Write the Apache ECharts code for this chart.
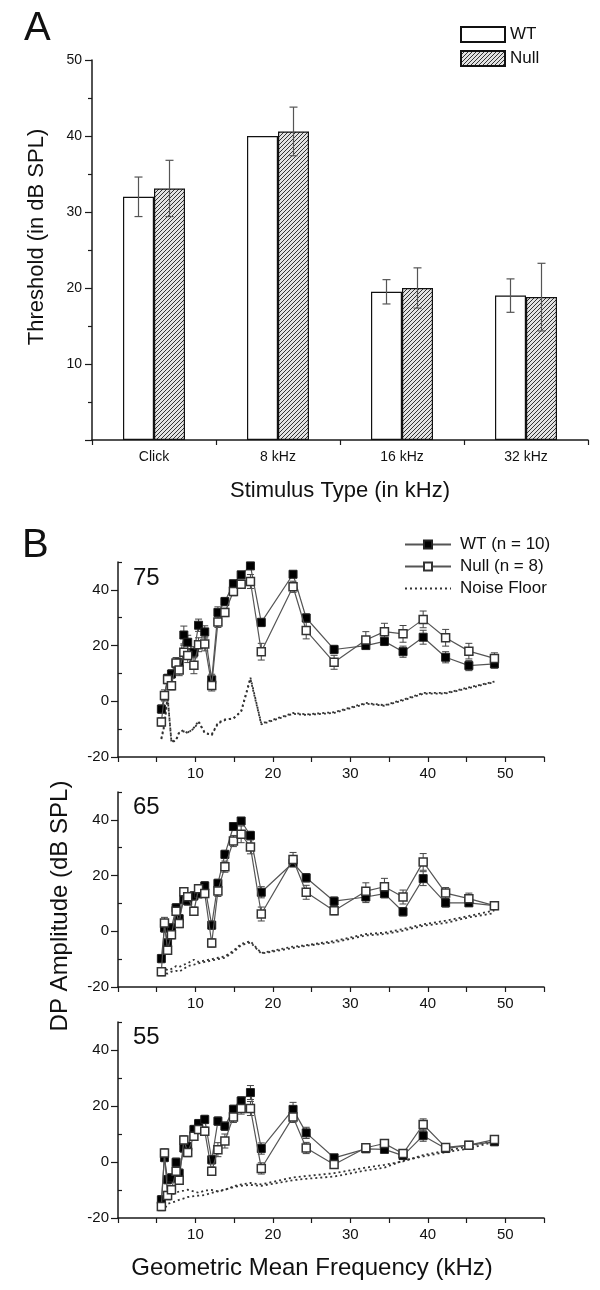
<!DOCTYPE html>
<html><head><meta charset="utf-8">
<script src="https://cdn.jsdelivr.net/npm/echarts@6/dist/echarts.min.js"></script>
<style>html,body{margin:0;padding:0;background:#fff}#c{width:600px;height:1290px}</style>
</head><body><div id="c"></div>
<script>
// ---------- Panel A data ----------
const categoriesA = ['Click', '8 kHz', '16 kHz', '32 kHz'];
const wtThreshold = [32.0, 40.0, 19.5, 19.0];
const wtThresholdErr = [2.6, 0, 1.6, 2.2];
const nullThreshold = [33.1, 40.6, 20.0, 18.8];
const nullThresholdErr = [3.7, 3.2, 2.65, 4.45];

// ---------- Panel B data ----------
const freq = [5.6, 6.0, 6.4, 6.9, 7.5, 7.9, 8.5, 9.0, 9.8, 10.4, 11.2, 12.1, 12.9, 13.8, 14.9, 15.9, 17.1, 18.5, 22.6, 24.3, 27.9, 32.0, 34.4, 36.8, 39.4, 42.3, 45.3, 48.6];
const levels = ['75', '65', '55'];

const wt75 = [-2.8, 2.0, 8.2, 9.8, 13.6, 13.8, 23.8, 21.2, 17.6, 27.3, 24.9, 7.7, 31.9, 35.8, 42.2, 45.4, 48.6, 28.3, 45.6, 29.9, 18.6, 20.0, 21.5, 17.8, 23.0, 15.8, 12.8, 13.4];
const wt75Err = [1.5, 1.5, 1.5, 1.5, 1.5, 1.5, 3.2, 2.5, 2.0, 2.2, 2.2, 2.0, 2.0, 1.5, 1.2, 1.2, 1.0, 1.5, 1.2, 1.5, 1.5, 1.2, 1.5, 2.0, 2.5, 2.0, 1.8, 1.5];
const null75 = [-7.4, 2.1, 7.8, 5.6, 13.7, 11.2, 17.6, 16.4, 12.9, 20.3, 20.6, 5.7, 28.5, 31.9, 39.4, 42.0, 43.0, 17.8, 41.1, 25.4, 14.0, 22.0, 25.0, 24.2, 29.4, 22.8, 18.0, 15.4];
const null75Err = [1.5, 2.0, 1.5, 1.5, 2.0, 2.0, 2.5, 2.5, 3.0, 2.5, 2.5, 2.0, 2.0, 1.5, 1.5, 1.5, 2.5, 3.0, 2.0, 3.0, 2.5, 3.0, 3.0, 3.0, 3.0, 3.0, 2.8, 2.0];
const noise75a = [-13.3, -8.0, 2.0, -14.5, -13.8, -11.0, -10.4, -11.5, -9.5, -7.1, -11.5, -11.9, -7.7, -6.5, -6.3, -3.5, 8.5, -8.0, -4.2, -4.7, -3.9, -0.6, -1.4, 0.6, 3.0, 3.0, 5.0, 7.1];
const noise75b = [-13.6, -8.5, 1.5, -14.8, -14.0, -11.3, -10.8, -11.2, -9.8, -7.5, -11.2, -12.2, -8.0, -6.8, -6.0, -3.8, 8.0, -8.3, -4.5, -4.9, -4.2, -0.9, -1.6, 0.3, 2.7, 2.8, 4.7, 6.9];

const wt65 = [-9.8, 1.2, -4.2, 1.2, 8.4, 4.5, 11.4, 10.9, 12.7, 13.5, 16.3, 2.2, 17.2, 27.6, 37.6, 39.6, 34.4, 14.0, 24.6, 19.2, 10.8, 12.3, 13.5, 7.0, 18.9, 10.2, 10.2, 9.2];
const wt65Err = [1.5, 1.5, 1.5, 1.5, 1.5, 1.5, 1.5, 1.5, 1.5, 1.5, 1.5, 1.5, 1.5, 1.5, 1.2, 1.2, 1.5, 2.0, 1.5, 1.5, 1.5, 2.0, 1.5, 1.5, 2.5, 1.5, 1.2, 1.0];
const null65 = [-14.5, 3.0, -6.8, -1.2, 7.2, 2.8, 14.2, 12.4, 7.2, 15.3, 13.6, -4.2, 14.5, 23.2, 32.4, 34.8, 30.3, 6.2, 25.8, 14.0, 7.4, 14.4, 16.0, 12.3, 24.9, 13.7, 11.7, 9.2];
const null65Err = [1.5, 2.0, 1.5, 1.5, 1.5, 1.5, 1.5, 1.5, 1.5, 1.5, 1.5, 1.5, 2.0, 2.0, 2.0, 3.0, 2.5, 2.5, 2.5, 2.5, 1.5, 3.0, 3.0, 2.5, 3.0, 2.0, 2.0, 1.0];
const noise65a = [-13.5, -13.2, -14.0, -13.5, -12.5, -12.8, -12.0, -11.5, -10.2, -11.0, -10.5, -10.0, -9.5, -9.0, -7.0, -4.5, -3.6, -7.8, -5.5, -5.0, -3.5, -1.0, -0.5, 0.8, 2.5, 3.8, 5.5, 7.5];
const noise65b = [-15.5, -15.0, -15.2, -14.5, -14.2, -14.5, -13.5, -12.5, -12.0, -11.5, -11.0, -10.5, -10.0, -9.5, -7.5, -5.0, -4.0, -8.0, -6.0, -5.2, -4.0, -1.5, -1.0, 0.2, 2.0, 3.0, 5.0, 6.5];

const wt55 = [-13.5, 1.6, -6.3, -5.7, -0.1, -4.0, 5.0, 5.5, 11.6, 13.7, 15.2, 0.8, 14.6, 12.8, 18.8, 21.8, 24.8, 4.8, 18.8, 10.4, 1.5, 4.7, 4.5, 2.3, 9.4, 4.8, 6.0, 7.2];
const wt55Err = [1.5, 1.5, 1.5, 1.5, 1.5, 1.5, 1.5, 1.5, 1.5, 1.5, 1.5, 1.5, 1.5, 1.5, 1.5, 1.5, 2.5, 2.0, 2.5, 2.0, 1.0, 1.0, 1.0, 1.0, 2.0, 1.0, 1.0, 1.0];
const null55 = [-15.9, 3.2, -12.0, -9.9, -3.3, -6.5, 7.9, 3.4, 9.2, 11.6, 11.0, -3.3, 4.4, 7.5, 16.1, 19.1, 19.1, -2.3, 16.1, 5.0, -0.9, 5.1, 6.6, 3.0, 13.4, 5.2, 6.0, 8.0];
const null55Err = [1.5, 1.5, 1.5, 1.5, 1.5, 1.5, 1.5, 1.5, 1.5, 1.5, 1.5, 1.5, 2.5, 2.5, 2.0, 2.0, 2.5, 2.0, 2.0, 2.0, 1.0, 1.0, 1.0, 1.0, 2.0, 1.0, 1.0, 1.0];
const noise55a = [-14.5, -12.5, -12.0, -11.5, -11.0, -10.5, -10.2, -9.9, -10.5, -11.0, -10.2, -10.0, -10.5, -10.0, -8.7, -8.0, -7.5, -8.0, -5.5, -5.0, -4.0, -2.0, -1.0, 0.2, 2.5, 4.0, 5.6, 7.8];
const noise55b = [-16.5, -16.8, -15.0, -14.5, -14.0, -13.5, -13.0, -12.5, -12.2, -12.0, -11.8, -11.0, -10.5, -9.8, -9.0, -8.5, -8.2, -8.5, -6.5, -6.0, -5.2, -3.0, -2.0, 0.5, 2.0, 3.5, 4.8, 7.2];

const panelB = [
  {wt: wt75, wtErr: wt75Err, nul: null75, nulErr: null75Err, na: noise75a, nb: noise75b},
  {wt: wt65, wtErr: wt65Err, nul: null65, nulErr: null65Err, na: noise65a, nb: noise65b},
  {wt: wt55, wtErr: wt55Err, nul: null55, nulErr: null55Err, na: noise55a, nb: noise55b}
];

// ---------- styling ----------
const FONT = 'Arial, "Liberation Sans", Helvetica, sans-serif';
const INK = '#111';
const AXIS = {lineStyle: {color: '#1a1a1a', width: 1.5}};

function makeHatch() {
  const s = 4;
  const c = document.createElement('canvas');
  c.width = s; c.height = s;
  const g = c.getContext('2d');
  g.fillStyle = '#e2e2e2'; g.fillRect(0, 0, s, s);
  g.strokeStyle = '#333'; g.lineWidth = 1;
  g.beginPath();
  g.moveTo(-1, s + 1); g.lineTo(s + 1, -1);
  g.moveTo(-1, 1); g.lineTo(1, -1);
  g.moveTo(s - 1, s + 1); g.lineTo(s + 1, s - 1);
  g.stroke();
  return c;
}
const hatch = makeHatch();

const BAR_W = 31;

function errA(offset) {
  return function (params, api) {
    const e = api.value(2);
    if (!e) return null;
    const c = api.coord([api.value(0), api.value(1)]);
    const x = c[0] + offset;
    const t = api.coord([api.value(0), api.value(1) + e])[1];
    const b = api.coord([api.value(0), api.value(1) - e])[1];
    const st = {stroke: '#555', lineWidth: 1.2};
    return {type: 'group', children: [
      {type: 'line', shape: {x1: x, y1: t, x2: x, y2: b}, style: st},
      {type: 'line', shape: {x1: x - 4, y1: t, x2: x + 4, y2: t}, style: st},
      {type: 'line', shape: {x1: x - 4, y1: b, x2: x + 4, y2: b}, style: st}
    ]};
  };
}
function errB(params, api) {
  const x = api.value(0), y = api.value(1), e = api.value(2);
  const t = api.coord([x, y + e]), b = api.coord([x, y - e]);
  const st = {stroke: '#444', lineWidth: 1};
  return {type: 'group', children: [
    {type: 'line', shape: {x1: t[0], y1: t[1], x2: b[0], y2: b[1]}, style: st},
    {type: 'line', shape: {x1: t[0] - 3.5, y1: t[1], x2: t[0] + 3.5, y2: t[1]}, style: st},
    {type: 'line', shape: {x1: b[0] - 3.5, y1: b[1], x2: b[0] + 3.5, y2: b[1]}, style: st}
  ]};
}

// ---------- layout ----------
const grids = [
  {left: 92, top: 60, width: 496, height: 380},
  {left: 118, top: 562, width: 426, height: 195},
  {left: 118, top: 792, width: 426, height: 195},
  {left: 118, top: 1022, width: 426, height: 196}
];

const xAxes = [
  {gridIndex: 0, type: 'category', data: categoriesA, axisLine: AXIS,
   axisTick: {alignWithLabel: true, length: 5, lineStyle: {color: '#1a1a1a', width: 1.2}},
   axisLabel: {fontSize: 14, fontFamily: FONT, color: INK, margin: 10}},
  {gridIndex: 0, type: 'category', data: categoriesA, position: 'bottom',
   axisLine: {show: false}, axisLabel: {show: false},
   axisTick: {show: true, length: 5, lineStyle: {color: '#1a1a1a', width: 1.2}}}
];
const yAxes = [
  {gridIndex: 0, type: 'value', min: 0, max: 50, interval: 10, axisLine: {show: true, lineStyle: {color: '#1a1a1a', width: 1.5}},
   splitLine: {show: false},
   axisTick: {show: true, length: 7, lineStyle: {color: '#1a1a1a', width: 1.2}},
   minorTick: {show: true, splitNumber: 2, length: 4, lineStyle: {color: '#1a1a1a', width: 1.2}},
   axisLabel: {fontSize: 14, fontFamily: FONT, color: INK, margin: 10, formatter: v => v === 0 ? '' : String(v)}}
];
for (let k = 0; k < 3; k++) {
  xAxes.push({gridIndex: k + 1, type: 'value', min: 0, max: 55, interval: 5,
    axisLine: {show: true, onZero: false, lineStyle: {color: '#1a1a1a', width: 1.5}},
    splitLine: {show: false},
    axisTick: {show: true, length: 5, lineStyle: {color: '#1a1a1a', width: 1.2}},
    axisLabel: {fontSize: 15, fontFamily: FONT, color: INK, margin: 9, showMaxLabel: true,
      formatter: v => (v > 0 && v <= 50 && v % 10 === 0) ? String(v) : ''}});
  yAxes.push({gridIndex: k + 1, type: 'value', min: -20, max: 50, interval: 10,
    axisLine: {show: true, onZero: false, lineStyle: {color: '#1a1a1a', width: 1.5}},
    splitLine: {show: false},
    axisTick: {show: true, length: 7, customValues: [-20, 0, 20, 40], lineStyle: {color: '#1a1a1a', width: 1.2}},
    axisLabel: {fontSize: 15, fontFamily: FONT, color: INK, margin: 9, customValues: [-20, 0, 20, 40],
      formatter: v => (v % 20 === 0 && v < 50) ? String(v) : ''}});
  yAxes.push({gridIndex: k + 1, type: 'value', min: -20, max: 50, interval: 10,
    axisLine: {show: false}, splitLine: {show: false}, axisLabel: {show: false},
    axisTick: {show: true, length: 4, customValues: [-10, 10, 30, 50], lineStyle: {color: '#1a1a1a', width: 1.2}}});
}

const series = [
  {name: 'WT', type: 'bar', xAxisIndex: 0, yAxisIndex: 0, data: wtThreshold, barWidth: BAR_W, barGap: '0%',
   itemStyle: {color: '#ffffff', borderColor: '#111', borderWidth: 1.2}},
  {name: 'Null', type: 'bar', xAxisIndex: 0, yAxisIndex: 0, data: nullThreshold, barWidth: BAR_W, barGap: '0%',
   itemStyle: {color: {image: hatch, repeat: 'repeat'}, borderColor: '#111', borderWidth: 1.2}},
  {type: 'custom', xAxisIndex: 0, yAxisIndex: 0, z: 5, renderItem: errA(-BAR_W / 2),
   data: wtThreshold.map((v, i) => [i, v, wtThresholdErr[i]])},
  {type: 'custom', xAxisIndex: 0, yAxisIndex: 0, z: 5, renderItem: errA(BAR_W / 2),
   data: nullThreshold.map((v, i) => [i, v, nullThresholdErr[i]])}
];

panelB.forEach((p, k) => {
  const xi = k + 2, yi = 1 + 2 * k;
  [p.na, p.nb].forEach(arr => series.push({
    name: 'Noise Floor', type: 'line', xAxisIndex: xi, yAxisIndex: yi, symbol: 'none', z: 1,
    itemStyle: {color: '#333'},
    lineStyle: {color: '#333', width: 1.8, type: [2, 3]},
    data: freq.map((f, i) => [f, arr[i]])
  }));
  series.push({type: 'custom', xAxisIndex: xi, yAxisIndex: yi, z: 2, renderItem: errB,
    data: freq.map((f, i) => [f, p.wt[i], p.wtErr[i]])});
  series.push({type: 'custom', xAxisIndex: xi, yAxisIndex: yi, z: 2, renderItem: errB,
    data: freq.map((f, i) => [f, p.nul[i], p.nulErr[i]])});
  series.push({name: 'WT (n = 10)', type: 'line', xAxisIndex: xi, yAxisIndex: yi, z: 3,
    symbol: 'rect', symbolSize: 8,
    itemStyle: {color: '#000', borderColor: '#222', borderWidth: 1},
    lineStyle: {color: '#555', width: 1.2},
    data: freq.map((f, i) => [f, p.wt[i]])});
  series.push({name: 'Null (n = 8)', type: 'line', xAxisIndex: xi, yAxisIndex: yi, z: 4,
    symbol: 'rect', symbolSize: 8,
    itemStyle: {color: '#fff', borderColor: '#333', borderWidth: 1.5},
    lineStyle: {color: '#555', width: 1.2},
    data: freq.map((f, i) => [f, p.nul[i]])});
});

const txt = (t, x, y, size, opts) => Object.assign({type: 'text', x: x, y: y,
  style: {text: t, fontSize: size, fontFamily: FONT, fill: INK, align: 'left', verticalAlign: 'middle'}}, opts || {});

const graphics = [
  txt('A', 24, 29, 40),
  txt('B', 22, 546, 40),
  txt('Threshold (in dB SPL)', 37, 237, 22, {rotation: Math.PI / 2}),
  txt('Stimulus Type (in kHz)', 340, 491, 22),
  txt('DP Amplitude (dB SPL)', 60, 906, 24, {rotation: Math.PI / 2}),
  txt('Geometric Mean Frequency (kHz)', 312, 1268, 24)
];
graphics[2].style.align = 'center';
graphics[3].style.align = 'center';
graphics[4].style.align = 'center';
graphics[5].style.align = 'center';
const levelY = [578, 807, 1037];
levels.forEach((l, k) => graphics.push(txt(l, 133, levelY[k], 24)));

const chart = echarts.init(document.getElementById('c'), null, {renderer: 'canvas'});
chart.setOption({
  animation: false,
  backgroundColor: '#fff',
  grid: grids,
  xAxis: xAxes,
  yAxis: yAxes,
  legend: [
    {data: ['WT', 'Null'], left: 460, top: 26, orient: 'vertical', itemWidth: 44, itemHeight: 15, itemGap: 7,
     padding: 0, icon: 'rect', selectedMode: false,
     textStyle: {fontSize: 17, fontFamily: FONT, color: INK}},
    {data: ['WT (n = 10)', 'Null (n = 8)', {name: 'Noise Floor', itemStyle: {opacity: 0}}],
     left: 404, top: 536, orient: 'vertical',
     itemWidth: 46, itemHeight: 10, itemGap: 5, padding: 0, selectedMode: false,
     textStyle: {fontSize: 17, fontFamily: FONT, color: INK, padding: [0, 0, 0, 4]}}
  ],
  graphic: graphics,
  series: series
});
</script>
</body></html>
